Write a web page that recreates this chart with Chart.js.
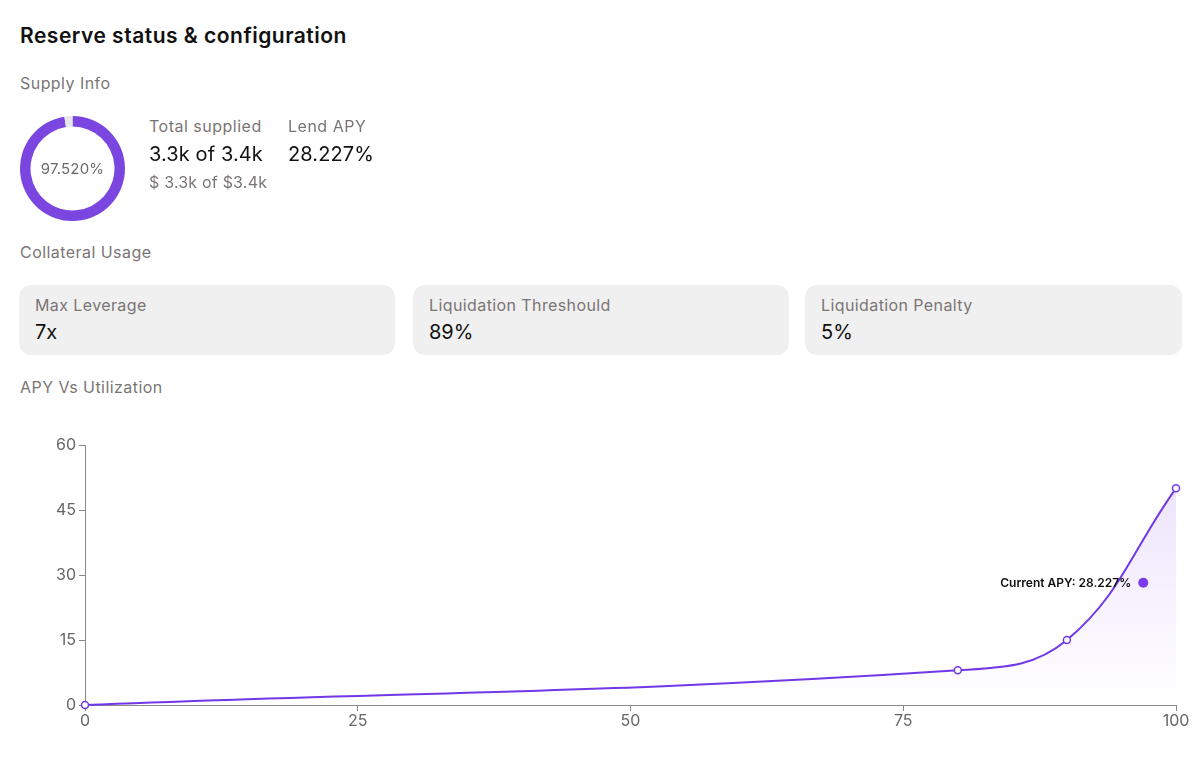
<!DOCTYPE html>
<html>
<head>
<meta charset="utf-8">
<script src="https://cdn.jsdelivr.net/npm/chart.js@4.4.1/dist/chart.umd.min.js"></script>
<style>
  html, body { margin:0; padding:0; background:#fff; }
  body { width:1200px; height:761px; position:relative; overflow:hidden; font-family: Inter, "Open Sans", sans-serif; }
  .t { position:absolute; line-height:1; white-space:nowrap; }
  .title { font-size:21px; font-weight:600; color:#111; letter-spacing:0.5px; }
  .sec { font-size:16px; color:#7a7575; letter-spacing:0.45px; }
  .lbl { font-size:16px; color:#7a7575; letter-spacing:0.5px; }
  .big { font-size:20px; color:#111; letter-spacing:0.1px; }
  .sub { font-size:16px; color:#7a7575; letter-spacing:0.2px; }
  .card { position:absolute; top:285px; height:70px; background:#f0f0f0; border-radius:12px; }
  .card .cl { position:absolute; left:16px; top:12px; font-size:16px; color:#7a7575; line-height:1; white-space:nowrap; letter-spacing:0.4px; }
  .card .cv { position:absolute; left:16px; top:37px; font-size:20px; color:#111; line-height:1; white-space:nowrap; }
  #donutWrap { position:absolute; left:20px; top:116px; width:105px; height:105px; }
  #donutText { position:absolute; left:20px; top:116px; width:105px; height:105px; display:flex; align-items:center; justify-content:center; font-size:15px; color:#6b6b6b; letter-spacing:0.2px; }
  #chartWrap { position:absolute; left:0; top:430px; width:1200px; height:331px; }
</style>
</head>
<body>
<div class="t title" style="left:20px; top:25px;">Reserve status &amp; configuration</div>
<div class="t sec" style="left:20px; top:75px;">Supply Info</div>

<div id="donutWrap"><canvas id="donut"></canvas></div>
<div id="donutText">97.520%</div>

<div class="t lbl" style="left:149px; top:118px;">Total supplied</div>
<div class="t big" style="left:149px; top:144px;">3.3k of 3.4k</div>
<div class="t sub" style="left:149px; top:174px;">$ 3.3k of $3.4k</div>
<div class="t lbl" style="left:288px; top:118px;">Lend APY</div>
<div class="t big" style="left:288px; top:144px;">28.227%</div>

<div class="t sec" style="left:20px; top:244px;">Collateral Usage</div>
<div class="card" style="left:19px; width:376px;"><div class="cl">Max Leverage</div><div class="cv">7x</div></div>
<div class="card" style="left:413px; width:376px;"><div class="cl">Liquidation Threshould</div><div class="cv">89%</div></div>
<div class="card" style="left:805px; width:377px;"><div class="cl">Liquidation Penalty</div><div class="cv">5%</div></div>

<div class="t sec" style="left:20px; top:379px;">APY Vs Utilization</div>

<div id="chartWrap"><canvas id="apy"></canvas></div>

<script>
// ---- Data ----
const supplyLabels = ['Supplied', 'Available'];
const supplyShares = [97.52, 2.48];

const utilization = [0, 80, 90, 100];
const apyValues = [0, 8, 15, 50];

const currentUtilization = [97];
const currentApy = [28.227];
const currentLabel = 'Current APY: 28.227%';

const xTicks = [0, 25, 50, 75, 100];
const yTicks = [0, 15, 30, 45, 60];

const PURPLE = '#7038e6';
const FONT = 'Inter, "Open Sans", sans-serif';

// ---- Donut ----
new Chart(document.getElementById('donut'), {
  type: 'doughnut',
  data: {
    labels: supplyLabels,
    datasets: [{ data: supplyShares, backgroundColor: ['#7b45e0', '#e6e6ea'], borderWidth: 0 }]
  },
  options: {
    responsive: true, maintainAspectRatio: false, animation: false,
    cutout: '80%',
    plugins: { legend: { display: false }, tooltip: { enabled: false } }
  }
});

// ---- Line chart ----
const lineData = utilization.map((u, i) => ({ x: u, y: apyValues[i] }));
const currentData = currentUtilization.map((u, i) => ({ x: u, y: currentApy[i] }));

const currentLabelPlugin = {
  id: 'currentLabel',
  afterDatasetsDraw(chart) {
    const meta = chart.getDatasetMeta(0);
    const pt = meta.data[0];
    if (!pt) return;
    const ctx = chart.ctx;
    ctx.save();
    ctx.font = '600 12px ' + FONT;
    ctx.fillStyle = '#111';
    ctx.textAlign = 'right';
    ctx.textBaseline = 'middle';
    ctx.fillText(currentLabel, pt.x - 12, pt.y + 1);
    ctx.restore();
  }
};

new Chart(document.getElementById('apy'), {
  type: 'line',
  data: {
    datasets: [
      {
        label: 'Current APY',
        data: currentData,
        showLine: false,
        pointRadius: 5,
        pointBackgroundColor: '#7c3aed',
        pointBorderColor: '#7c3aed',
        pointBorderWidth: 0,
        clip: false,
        order: 0
      },
      {
        label: 'APY',
        data: lineData,
        borderColor: PURPLE,
        borderWidth: 2,
        tension: 0.4,
        fill: 'origin',
        backgroundColor: (c) => {
          const area = c.chart.chartArea;
          if (!area) return 'rgba(124,58,237,0.1)';
          const g = c.chart.ctx.createLinearGradient(0, area.top, 0, area.bottom);
          g.addColorStop(0, 'rgba(124,58,237,0.16)');
          g.addColorStop(1, 'rgba(124,58,237,0)');
          return g;
        },
        pointRadius: 3.5,
        pointBackgroundColor: '#fff',
        pointBorderColor: PURPLE,
        pointBorderWidth: 1.5,
        clip: false,
        order: 1
      }
    ]
  },
  options: {
    responsive: true, maintainAspectRatio: false, animation: false,
    layout: { padding: { left: 20, right: 24, top: 15, bottom: 0 } },
    plugins: { legend: { display: false }, tooltip: { enabled: false } },
    scales: {
      x: {
        type: 'linear', min: 0, max: 100,
        afterBuildTicks: (s) => { s.ticks = xTicks.map(v => ({ value: v })); },
        afterFit: (s) => { s.height = 56; },
        grid: { drawOnChartArea: false, drawTicks: true, tickLength: 6, color: '#888', lineWidth: 1 },
        border: { display: true, color: '#888', width: 1 },
        ticks: { color: '#666', font: { family: FONT, size: 16 }, padding: 1, maxRotation: 0 }
      },
      y: {
        type: 'linear', min: 0, max: 60,
        afterBuildTicks: (s) => { s.ticks = yTicks.map(v => ({ value: v })); },
        afterFit: (s) => { s.width = 65; },
        grid: { drawOnChartArea: false, drawTicks: true, tickLength: 6, color: '#888', lineWidth: 1 },
        border: { display: true, color: '#888', width: 1 },
        ticks: { color: '#666', font: { family: FONT, size: 16 }, padding: 3 }
      }
    }
  },
  plugins: [currentLabelPlugin]
});
</script>
</body>
</html>
